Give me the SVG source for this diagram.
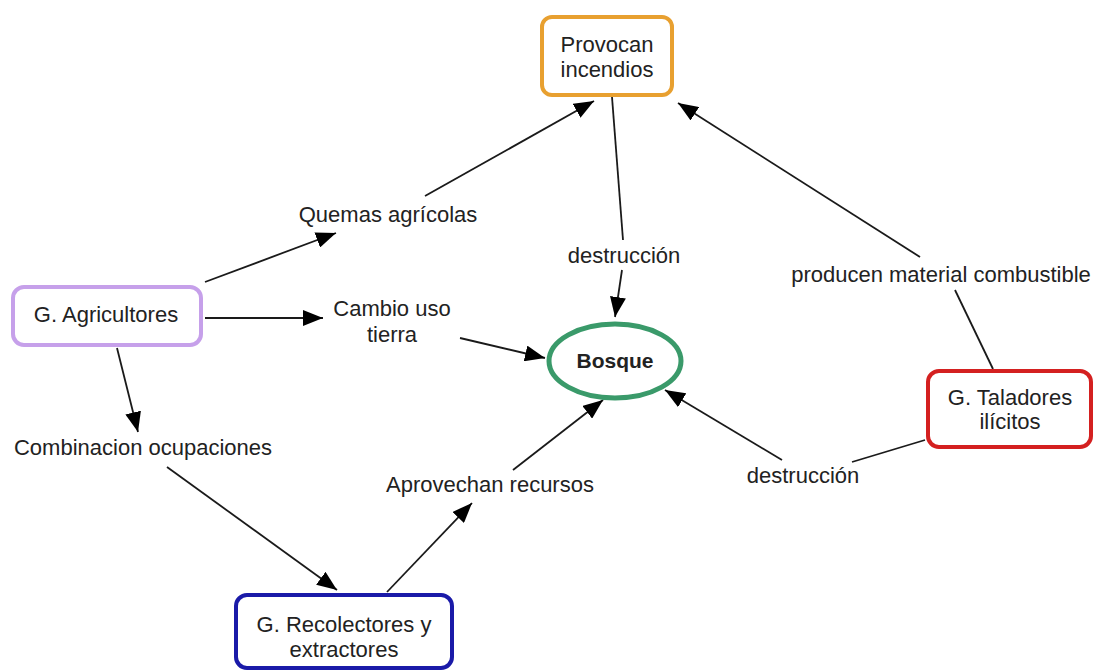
<svg xmlns="http://www.w3.org/2000/svg" width="1094" height="670" viewBox="0 0 1094 670">
<style>
text{font-family:"Liberation Sans",Arial,sans-serif;font-size:22px;fill:#222;text-anchor:middle}
.box{fill:#fff;stroke-width:4}
.ln{stroke:#1a1a1a;stroke-width:1.8;fill:none}
.ar{marker-end:url(#ah)}
</style>
<defs>
<marker id="ah" markerUnits="userSpaceOnUse" markerWidth="20" markerHeight="16" refX="20" refY="8" orient="auto">
<path d="M0,0 L20,8 L0,16 z" fill="#000"/>
</marker>
</defs>
<rect width="1094" height="670" fill="#fff"/>
<g id="connectors">
<path class="ln ar" d="M205,282 L336,233"/>
<path class="ln ar" d="M425,196 L594,101"/>
<path class="ln ar" d="M205,318 L323,318"/>
<path class="ln ar" d="M460,338 L545,358"/>
<path class="ln ar" d="M117,348 L138,432"/>
<path class="ln ar" d="M167,467 L337,590"/>
<path class="ln ar" d="M387,592 L472,503"/>
<path class="ln ar" d="M513,470 L603,400"/>
<path class="ln" d="M612,97 L623,240"/>
<path class="ln ar" d="M622,270 L615,317"/>
<path class="ln ar" d="M920,257 L678,103"/>
<path class="ln" d="M955,290 L993,369"/>
<path class="ln" d="M925,440 L852,462"/>
<path class="ln ar" d="M782,460 L665,390"/>
</g>
<g id="labels">
<text x="388" y="222">Quemas agrícolas</text>
<text x="392" y="316">Cambio uso</text>
<text x="392" y="342">tierra</text>
<text x="143" y="455">Combinacion ocupaciones</text>
<text x="490" y="492">Aprovechan recursos</text>
<text x="624" y="263">destrucción</text>
<text x="941" y="282">producen material combustible</text>
<text x="803" y="483">destrucción</text>
</g>
<g id="provocan">
<rect class="box" x="542" y="17" width="130" height="78" rx="10" stroke="#e8a030"/>
<text x="607" y="52">Provocan</text>
<text x="607" y="77">incendios</text>
</g>
<g id="agricultores">
<rect class="box" x="13" y="287" width="188" height="58" rx="11" stroke="#c6a0ea"/>
<text x="106" y="322">G. Agricultores</text>
</g>
<g id="bosque">
<ellipse cx="615" cy="361" rx="66" ry="37" fill="#fff" stroke="#3a9a6a" stroke-width="5"/>
<text x="615" y="368" style="font-weight:bold;font-size:21px">Bosque</text>
</g>
<g id="taladores">
<rect class="box" x="928" y="371" width="163" height="76" rx="11" stroke="#d42020"/>
<text x="1010" y="405">G. Taladores</text>
<text x="1010" y="429">ilícitos</text>
</g>
<g id="recolectores">
<rect class="box" x="236" y="595" width="216" height="73" rx="11" stroke="#1a1aa8"/>
<text x="344" y="632">G. Recolectores y</text>
<text x="344" y="657">extractores</text>
</g>
</svg>
